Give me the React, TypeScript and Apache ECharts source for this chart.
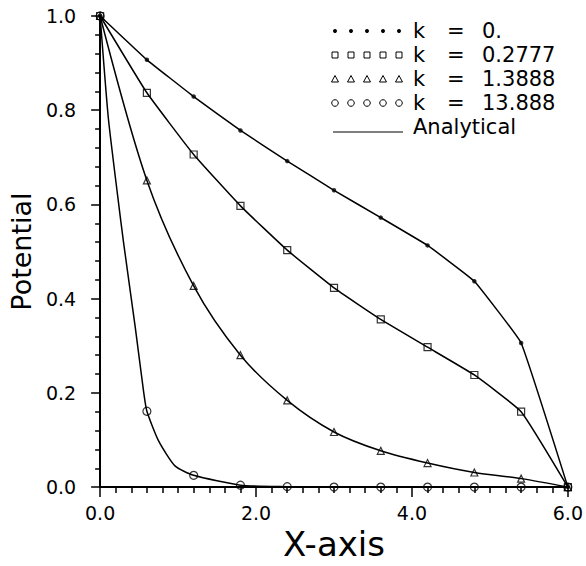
import React, { useEffect, useRef } from "react";
import * as echarts from "echarts";

// ---- data ----
const xValues = [0, 0.6, 1.2, 1.8, 2.4, 3.0, 3.6, 4.2, 4.8, 5.4, 6.0];
const k0Values = [1, 0.907, 0.829, 0.757, 0.692, 0.63, 0.572, 0.513, 0.437, 0.306, 0];
const k02777Values = [1, 0.837, 0.706, 0.597, 0.503, 0.423, 0.356, 0.297, 0.238, 0.16, 0];
const k13888Values = [1, 0.651, 0.427, 0.28, 0.184, 0.117, 0.077, 0.051, 0.031, 0.018, 0];
const k138880Values = [1, 0.161, 0.025, 0.004, 0.001, 0, 0, 0, 0, 0, 0];

// analytical curve for k = 13.888
const analytic13X = [0, 0.105, 0.226, 0.3, 0.45, 0.56, 0.6, 0.75, 0.96, 1.2, 1.8, 2.4, 3.0, 3.6, 4.2, 4.8, 5.4, 6.0];
const analytic13Y = [1, 0.784, 0.617, 0.52, 0.34, 0.2, 0.161, 0.098, 0.045, 0.025, 0.004, 0.001, 0, 0, 0, 0, 0, 0];

const legendValues = ["0.", "0.2777", "1.3888", "13.888"];
const legendSymbols = ["dot", "square", "triangle", "circle"];
const analyticalLabel = "Analytical";
const xTickLabels: Record<string, string> = { "0": "0.0", "2": "2.0", "4": "4.0", "6": "6.0" };
const xAxisTitle = "X-axis";
const yAxisTitle = "Potential";

const FONT = "DejaVu Sans";

function pairs(xs: number[], ys: number[]) {
  return xs.map((x, i) => [x, ys[i]]);
}

function legendSymbol(kind: string, cx: number, cy: number) {
  const stroke = { stroke: "#000", lineWidth: 1, fill: "none" };
  if (kind === "dot") return { type: "circle", shape: { cx, cy, r: 2 }, style: { fill: "#000" } };
  if (kind === "square") return { type: "rect", shape: { x: cx - 3, y: cy - 3, width: 6, height: 6 }, style: stroke };
  if (kind === "triangle")
    return { type: "polygon", shape: { points: [[cx, cy - 3.5], [cx + 3.5, cy + 3], [cx - 3.5, cy + 3]] }, style: stroke };
  return { type: "circle", shape: { cx, cy, r: 3.3 }, style: stroke };
}

function buildLegend() {
  const elements: any[] = [];
  const symX0 = 335;
  const rowY0 = 31;
  const rowGap = 24;
  const font = `21px '${FONT}'`;
  legendValues.forEach((v, i) => {
    const y = rowY0 + i * rowGap;
    for (let j = 0; j < 5; j++) elements.push(legendSymbol(legendSymbols[i], symX0 + j * 16, y));
    elements.push({ type: "text", x: 413, y, style: { text: "k", font, fill: "#000", verticalAlign: "middle" } });
    elements.push({ type: "text", x: 447, y, style: { text: "=", font, fill: "#000", verticalAlign: "middle" } });
    elements.push({ type: "text", x: 482, y, style: { text: v, font, fill: "#000", verticalAlign: "middle" } });
  });
  const ay = rowY0 + 4 * rowGap;
  elements.push({ type: "line", shape: { x1: 333, y1: ay + 5, x2: 403, y2: ay + 5 }, style: { stroke: "#000", lineWidth: 1.2 } });
  elements.push({ type: "text", x: 413, y: ay, style: { text: analyticalLabel, font, fill: "#000", verticalAlign: "middle" } });
  return elements;
}

const lineStyle = { color: "#000", width: 1.5 };

export default function App() {
  const ref = useRef<HTMLDivElement>(null);
  useEffect(() => {
    const chart = echarts.init(ref.current!, null, { renderer: "svg" });
    const option: any = {
      animation: false,
      backgroundColor: "#fff",
      grid: { left: 97, right: 12, top: 16, bottom: 69, containLabel: false },
      xAxis: {
        type: "value",
        min: 0,
        max: 6,
        interval: 2,
        name: xAxisTitle,
        nameLocation: "middle",
        nameGap: 28,
        nameTextStyle: { fontFamily: FONT, fontSize: 34, color: "#000" },
        axisLine: { show: true, onZero: false, lineStyle: { color: "#000", width: 2 } },
        axisTick: { show: true, inside: false, length: 10, lineStyle: { color: "#000", width: 1.5 } },
        minorTick: { show: true, splitNumber: 10, length: 6, lineStyle: { color: "#000", width: 1.5 } },
        splitLine: { show: false },
        axisLabel: {
          margin: 16,
          fontFamily: FONT,
          fontSize: 19,
          color: "#000",
          formatter: (v: number) => xTickLabels[String(v)] ?? String(v),
        },
      },
      yAxis: {
        type: "value",
        min: 0,
        max: 1,
        interval: 0.2,
        name: yAxisTitle,
        nameLocation: "middle",
        nameRotate: 90,
        nameGap: 65,
        nameTextStyle: { fontFamily: FONT, fontSize: 27, color: "#000" },
        axisLine: { show: true, onZero: false, lineStyle: { color: "#000", width: 2 } },
        axisTick: { show: true, inside: false, length: 9, lineStyle: { color: "#000", width: 1.5 } },
        minorTick: { show: true, splitNumber: 5, length: 5, lineStyle: { color: "#000", width: 1.5 } },
        splitLine: { show: false },
        axisLabel: {
          margin: 24,
          fontFamily: FONT,
          fontSize: 19,
          color: "#000",
          formatter: (v: number) => v.toFixed(1),
        },
      },
      graphic: buildLegend(),
      series: [
        { name: "k = 0. (Analytical)", type: "line", data: pairs(xValues, k0Values), showSymbol: false, smooth: 0.08, lineStyle, z: 2 },
        { name: "k = 0.2777 (Analytical)", type: "line", data: pairs(xValues, k02777Values), showSymbol: false, smooth: 0.12, lineStyle, z: 2 },
        { name: "k = 1.3888 (Analytical)", type: "line", data: pairs(xValues, k13888Values), showSymbol: false, smooth: 0.3, lineStyle, z: 2 },
        { name: "k = 13.888 (Analytical)", type: "line", data: pairs(analytic13X, analytic13Y), showSymbol: false, smooth: 0.2, lineStyle, z: 2 },
        {
          name: "k = 0.2777", type: "scatter", data: pairs(xValues, k02777Values), symbol: "rect", symbolSize: 7,
          itemStyle: { color: "rgba(0,0,0,0)", borderColor: "#000", borderWidth: 1.2 }, z: 3,
        },
        {
          name: "k = 1.3888", type: "scatter", data: pairs(xValues, k13888Values), symbol: "triangle", symbolSize: 7,
          itemStyle: { color: "rgba(0,0,0,0)", borderColor: "#000", borderWidth: 1.2 }, z: 3,
        },
        {
          name: "k = 13.888", type: "scatter", data: pairs(xValues, k138880Values), symbol: "circle", symbolSize: 8,
          itemStyle: { color: "rgba(0,0,0,0)", borderColor: "#000", borderWidth: 1.2 }, z: 3,
        },
        {
          name: "k = 0.", type: "scatter", data: pairs(xValues, k0Values), symbol: "circle", symbolSize: 4.5,
          itemStyle: { color: "#000" }, z: 4,
        },
      ],
    };
    chart.setOption(option);
    return () => chart.dispose();
  }, []);
  return <div ref={ref} style={{ position: "absolute", left: 0, top: 0, width: 586, height: 566 }} />;
}
